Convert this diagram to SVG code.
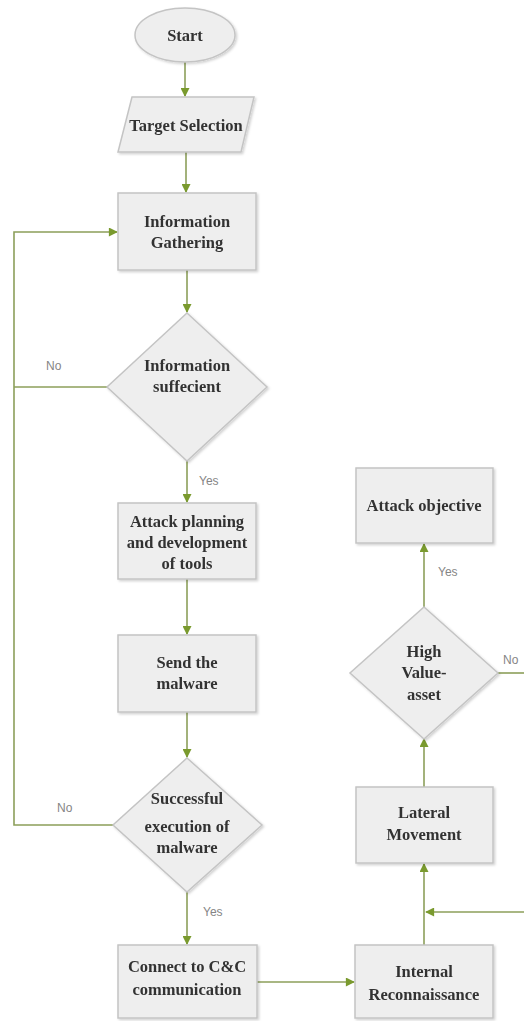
<svg xmlns="http://www.w3.org/2000/svg" width="524" height="1021" viewBox="0 0 524 1021">
  <style>
    .shape { fill: #eeeeee; stroke: #c4c4c4; stroke-width: 1.5; }
    .lbl { font-family: "Liberation Serif", "Times New Roman", serif; font-size: 16.5px; font-weight: bold; fill: #333333; text-anchor: middle; }
    .cond { font-family: "Liberation Sans", Arial, sans-serif; font-size: 12px; fill: #858585; }
    .wire { fill: none; stroke: #8c9f5a; stroke-width: 1.6; }
  </style>
  <defs>
    <marker id="arrow" viewBox="0 0 10 10" refX="9" refY="5" markerWidth="10" markerHeight="9" orient="auto" markerUnits="userSpaceOnUse">
      <path d="M0,0 L10,5 L0,10 z" fill="#7a9a2e"/>
    </marker>
    <filter id="shadow" x="-10%" y="-10%" width="125%" height="125%">
      <feDropShadow dx="1.5" dy="1.5" stdDeviation="1" flood-color="#000" flood-opacity="0.18"/>
    </filter>
  </defs>

  <!-- connectors -->
  <g id="connectors">
    <path class="wire" d="M185,62 V96" marker-end="url(#arrow)"/>
    <path class="wire" d="M186,152 V192" marker-end="url(#arrow)"/>
    <path class="wire" d="M187,270 V312" marker-end="url(#arrow)"/>
    <path class="wire" d="M107,387 H14"/>
    <path class="wire" d="M113,825 H14 V232 H117" marker-end="url(#arrow)"/>
    <path class="wire" d="M187,461 V502" marker-end="url(#arrow)"/>
    <path class="wire" d="M187,579 V634" marker-end="url(#arrow)"/>
    <path class="wire" d="M187,712 V757" marker-end="url(#arrow)"/>
    <path class="wire" d="M187,892 V944" marker-end="url(#arrow)"/>
    <path class="wire" d="M257,982 H354" marker-end="url(#arrow)"/>
    <path class="wire" d="M424,945 V864" marker-end="url(#arrow)"/>
    <path class="wire" d="M524,912 H426" marker-end="url(#arrow)"/>
    <path class="wire" d="M424,787 V739" marker-end="url(#arrow)"/>
    <path class="wire" d="M424,607 V544" marker-end="url(#arrow)"/>
    <path class="wire" d="M498,673 H524"/>
    <text class="cond" x="46" y="370">No</text>
    <text class="cond" x="199" y="485">Yes</text>
    <text class="cond" x="57" y="812">No</text>
    <text class="cond" x="203" y="916">Yes</text>
    <text class="cond" x="438" y="576">Yes</text>
    <text class="cond" x="503" y="664">No</text>
  </g>

  <g id="start" filter="url(#shadow)">
    <ellipse class="shape" cx="185" cy="35" rx="50" ry="27"/>
    <text class="lbl" x="185" y="41">Start</text>
  </g>

  <g id="target-selection" filter="url(#shadow)">
    <polygon class="shape" points="132,97 254,97 241,152 118,152"/>
    <text class="lbl" x="186" y="131">Target Selection</text>
  </g>

  <g id="information-gathering" filter="url(#shadow)">
    <rect class="shape" x="118" y="193" width="138" height="77"/>
    <text class="lbl" x="187" y="227">Information</text>
    <text class="lbl" x="187" y="248">Gathering</text>
  </g>

  <g id="information-sufficient" filter="url(#shadow)">
    <polygon class="shape" points="187,313 267,387 187,461 107,387"/>
    <text class="lbl" x="187" y="371">Information</text>
    <text class="lbl" x="187" y="392">suffecient</text>
  </g>

  <g id="attack-planning" filter="url(#shadow)">
    <rect class="shape" x="118" y="503" width="138" height="76"/>
    <text class="lbl" x="187" y="527">Attack planning</text>
    <text class="lbl" x="187" y="548">and development</text>
    <text class="lbl" x="187" y="569">of tools</text>
  </g>

  <g id="send-malware" filter="url(#shadow)">
    <rect class="shape" x="118" y="635" width="138" height="77"/>
    <text class="lbl" x="187" y="668">Send the</text>
    <text class="lbl" x="187" y="689">malware</text>
  </g>

  <g id="successful-execution" filter="url(#shadow)">
    <polygon class="shape" points="187,758 262,825 187,892 113,825"/>
    <text class="lbl" x="187" y="804">Successful</text>
    <text class="lbl" x="187" y="832">execution of</text>
    <text class="lbl" x="187" y="853">malware</text>
  </g>

  <g id="connect-cc" filter="url(#shadow)">
    <rect class="shape" x="118" y="945" width="139" height="73"/>
    <text class="lbl" x="187" y="972">Connect to C&amp;C</text>
    <text class="lbl" x="187" y="995">communication</text>
  </g>

  <g id="internal-reconnaissance" filter="url(#shadow)">
    <rect class="shape" x="355" y="945" width="138" height="73"/>
    <text class="lbl" x="424" y="977">Internal</text>
    <text class="lbl" x="424" y="1000">Reconnaissance</text>
  </g>

  <g id="lateral-movement" filter="url(#shadow)">
    <rect class="shape" x="356" y="787" width="137" height="76"/>
    <text class="lbl" x="424" y="818">Lateral</text>
    <text class="lbl" x="424" y="840">Movement</text>
  </g>

  <g id="high-value-asset" filter="url(#shadow)">
    <polygon class="shape" points="424,607 498,673 424,739 350,673"/>
    <text class="lbl" x="424" y="657">High</text>
    <text class="lbl" x="424" y="678">Value-</text>
    <text class="lbl" x="424" y="700">asset</text>
  </g>

  <g id="attack-objective" filter="url(#shadow)">
    <rect class="shape" x="356" y="468" width="137" height="75"/>
    <text class="lbl" x="424" y="511">Attack objective</text>
  </g>
</svg>
